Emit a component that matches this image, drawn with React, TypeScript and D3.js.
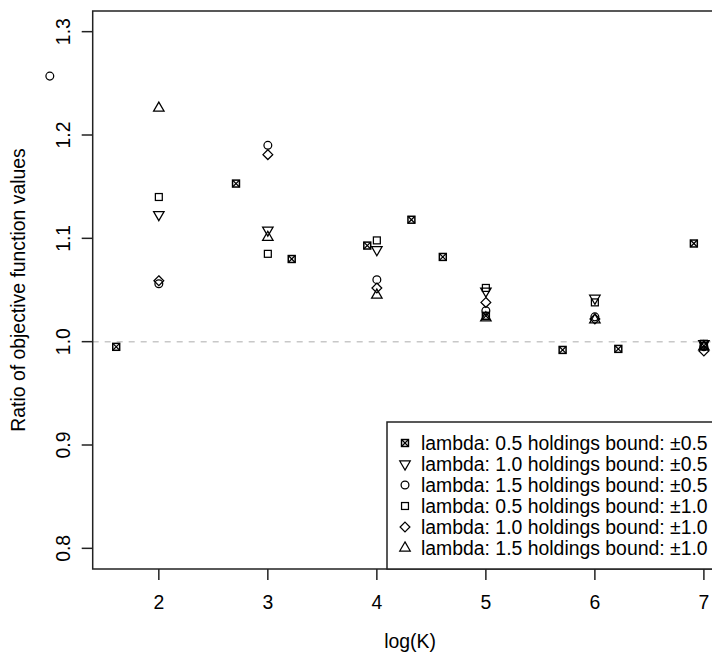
import React from "react";
import * as d3 from "d3";

// ---- data ----
const seriesLabels = [
  "lambda: 0.5 holdings bound: \u00b10.5",
  "lambda: 1.0 holdings bound: \u00b10.5",
  "lambda: 1.5 holdings bound: \u00b10.5",
  "lambda: 0.5 holdings bound: \u00b11.0",
  "lambda: 1.0 holdings bound: \u00b11.0",
  "lambda: 1.5 holdings bound: \u00b11.0",
];
const seriesShapes = ["crossSquare", "triDown", "circle", "square", "diamond", "triUp"];

const xS1 = [1.609, 2.708, 3.219, 3.912, 4.317, 4.605, 5.0, 5.704, 6.215, 6.908, 7.0];
const yS1 = [0.995, 1.153, 1.08, 1.093, 1.118, 1.082, 1.025, 0.992, 0.993, 1.095, 0.996];
const xInt = [2, 3, 4, 5, 6, 7];
const yS2 = [1.123, 1.108, 1.089, 1.049, 1.042, 0.998];
const xS3 = [1, 2, 3, 4, 5, 6, 7];
const yS3 = [1.257, 1.056, 1.19, 1.06, 1.03, 1.024, 0.995];
const yS4 = [1.14, 1.085, 1.098, 1.052, 1.038, 0.998];
const yS5 = [1.059, 1.181, 1.052, 1.038, 1.022, 0.991];
const yS6 = [1.226, 1.101, 1.045, 1.023, 1.021, 0.995];

const xTicks = [2, 3, 4, 5, 6, 7];
const yTicks = [0.8, 0.9, 1.0, 1.1, 1.2, 1.3];
const xLimData = [1.609, 7.0];
const yLim = [0.8, 1.3];
const refLine = 1.0;

const W = 712;
const H = 654;
const FONT = "'Liberation Sans', Arial, Helvetica, sans-serif";
const FS = 19.4;

const R = 3.9;

function Symbol({ shape, cx, cy }: { shape: string; cx: number; cy: number }) {
  const common = { fill: "none", stroke: "#000", strokeWidth: 1.25 };
  if (shape === "circle") return <circle cx={cx} cy={cy} r={R} {...common} />;
  if (shape === "square" || shape === "crossSquare") {
    const h = 0.886 * R;
    return (
      <g>
        <rect x={cx - h} y={cy - h} width={2 * h} height={2 * h} {...common} strokeWidth={shape === "crossSquare" ? 1.5 : 1.25} />
        {shape === "crossSquare" && (
          <path
            d={`M${cx - h},${cy - h}L${cx + h},${cy + h}M${cx - h},${cy + h}L${cx + h},${cy - h}`}
            {...common}
          />
        )}
      </g>
    );
  }
  if (shape === "diamond") {
    const d = 1.2533 * R;
    return <path d={`M${cx},${cy - d}L${cx + d},${cy}L${cx},${cy + d}L${cx - d},${cy}Z`} {...common} />;
  }
  const r = 1.5551 * R;
  const xc = 1.3468 * R;
  const yc = 0.7776 * R;
  if (shape === "triUp")
    return <path d={`M${cx},${cy - r}L${cx + xc},${cy + yc}L${cx - xc},${cy + yc}Z`} {...common} />;
  return <path d={`M${cx},${cy + r}L${cx + xc},${cy - yc}L${cx - xc},${cy - yc}Z`} {...common} />;
}

export default function App() {
  const padX = 0.04 * (xLimData[1] - xLimData[0]);
  const padY = 0.04 * (yLim[1] - yLim[0]);
  const left = 92.7;
  const right = 727.4;
  const top = 11;
  const bottom = 569;
  const x = d3.scaleLinear().domain([xLimData[0] - padX, xLimData[1] + padX]).range([left, right]);
  const y = d3.scaleLinear().domain([yLim[0] - padY, yLim[1] + padY]).range([bottom, top]);

  const series = [
    { xs: xS1, ys: yS1 },
    { xs: xInt, ys: yS2 },
    { xs: xS3, ys: yS3 },
    { xs: xInt, ys: yS4 },
    { xs: xInt, ys: yS5 },
    { xs: xInt, ys: yS6 },
  ];

  const lw = 1.5;
  const tick = 11;

  // legend
  const rowH = 21;
  const legTop = bottom - rowH * (seriesLabels.length + 1);
  const legLeft = 387;

  return (
    <svg
      width={W}
      height={H}
      style={{ position: "absolute", left: 0, top: 0, display: "block", background: "#fff" }}
      fontFamily={FONT}
      fontSize={FS}
    >
      <rect x={0} y={0} width={W} height={H} fill="#fff" />
      {/* reference line */}
      <line
        x1={left}
        x2={right}
        y1={y(refLine)}
        y2={y(refLine)}
        stroke="#c8c8c8"
        strokeWidth={1.5}
        strokeDasharray="6,6"
      />
      {/* plot box */}
      <rect x={left} y={top} width={right - left} height={bottom - top} fill="none" stroke="#222" strokeWidth={lw} />
      {/* x axis */}
      {xTicks.map((t) => (
        <g key={"xt" + t}>
          <line x1={x(t)} x2={x(t)} y1={bottom} y2={bottom + tick} stroke="#222" strokeWidth={lw} />
          <text x={x(t)} y={608.5} textAnchor="middle" fill="#000">
            {t}
          </text>
        </g>
      ))}
      {/* y axis */}
      {yTicks.map((t) => (
        <g key={"yt" + t}>
          <line x1={left - tick} x2={left} y1={y(t)} y2={y(t)} stroke="#222" strokeWidth={lw} />
          <text transform={`translate(69.5,${y(t)}) rotate(-90)`} textAnchor="middle" fill="#000">
            {t.toFixed(1)}
          </text>
        </g>
      ))}
      <text x={(left + right) / 2} y={648} textAnchor="middle" fill="#000">
        log(K)
      </text>
      <text transform={`translate(24.5,${(top + bottom) / 2}) rotate(-90)`} textAnchor="middle" fill="#000">
        Ratio of objective function values
      </text>
      {/* points */}
      {series.map((s, i) =>
        s.xs.map((xv, j) => (
          <Symbol key={`p${i}-${j}`} shape={seriesShapes[i]} cx={x(xv)} cy={y(s.ys[j])} />
        ))
      )}
      {/* legend */}
      <rect
        x={legLeft}
        y={legTop}
        width={right - legLeft}
        height={bottom - legTop}
        fill="#fff"
        stroke="#222"
        strokeWidth={lw}
      />
      {seriesLabels.map((lab, i) => {
        const cy = legTop + rowH * (i + 1);
        return (
          <g key={"lg" + i}>
            <Symbol shape={seriesShapes[i]} cx={405} cy={cy} />
            <text x={421} y={cy} dy="0.35em" fill="#000">
              {lab}
            </text>
          </g>
        );
      })}
    </svg>
  );
}
